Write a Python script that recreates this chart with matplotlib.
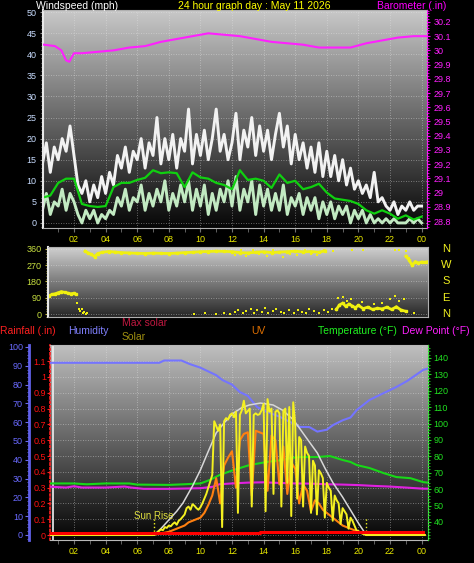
import numpy as np
import matplotlib.pyplot as plt
from matplotlib.colors import LinearSegmentedColormap
from matplotlib.ticker import MultipleLocator, FixedLocator

plt.rcParams['font.family'] = ['Liberation Sans', 'DejaVu Sans']

W, H = 474, 563

# ---------------- data ----------------
# wind gust and wind speed (mph), one reading every 15 minutes from 00:00
gust = [14, 19, 12, 18, 15, 20, 17, 23, 16, 9, 7, 10, 5, 9, 6, 11,
        7, 12, 9, 16, 13, 18, 12, 17, 15, 20, 13, 19, 16, 25, 14, 20,
        15, 21, 13, 20, 17, 27, 14, 21, 16, 22, 15, 20, 27, 17, 21, 15,
        19, 26, 15, 22, 18, 25, 16, 23, 17, 22, 15, 21, 26, 18, 23, 14,
        21, 15, 19, 13, 18, 12, 19, 11, 17, 11, 16, 10, 15, 9, 13, 8,
        10, 7, 9, 6, 12, 5, 6, 4, 3, 5, 2, 4, 3, 5, 3, 4, 4]
speed = [3, 7, 2, 5, 4, 8, 3, 7, 5, 2, 0, 3, 1, 3, 0, 2,
         1, 3, 2, 6, 4, 8, 3, 6, 5, 9, 3, 7, 4, 8, 5, 10,
         3, 7, 4, 9, 5, 10, 3, 8, 4, 9, 2, 7, 3, 8, 5, 10,
         4, 11, 3, 8, 5, 10, 2, 9, 4, 8, 3, 7, 3, 9, 2, 6,
         4, 7, 2, 6, 3, 6, 1, 5, 2, 5, 1, 4, 2, 4, 0, 3,
         1, 3, 0, 2, 0, 1, 0, 1, 0, 1, 0, 0, 0, 1, 0, 1, 0]
# average wind speed (mph), every 30 minutes
avg_wind = [6, 6.5, 9.5, 10.5, 10.5, 4.5, 4, 3.8, 4, 8.5, 9.5, 9.5, 10.2,
            10.7, 12.5, 11.8, 12, 11.8, 8.5, 12, 10.8, 10.5, 9.5, 9, 8,
            12.5, 10.2, 10.5, 10, 8.3, 11.5, 9.5, 10, 8, 8.5, 9.3, 7.2,
            5.8, 5.5, 5.2, 4.5, 3, 2.2, 3, 2.2, 1, 1.8, 0.8, 1.5]

# barometer (inHg)
baro_hours = [0.1, 0.8, 1.2, 1.5, 1.7, 2.0, 2.5, 3.5, 4.5, 5.5, 6.5, 7.5,
              8.5, 9.5, 10.5, 11.5, 12.5, 13.5, 14.5, 15.5, 16.5, 17.5,
              18.5, 19.5, 20.5, 21.5, 22.5, 23.5, 24.3]
baro = [30.04, 30.03, 30.0, 29.93, 29.92, 29.98, 29.98, 29.99, 30.0, 30.02,
        30.03, 30.06, 30.08, 30.1, 30.12, 30.11, 30.1, 30.08, 30.06, 30.05,
        30.04, 30.02, 30.02, 30.02, 30.05, 30.07, 30.09, 30.1, 30.1]

# wind direction (degrees)
dir_night_h = [0.4, 0.6, 0.8, 1.0, 1.2, 1.4, 1.6, 1.8, 2.0, 2.1]
dir_night = [100, 108, 112, 118, 124, 120, 116, 112, 115, 110]
dir_day_h = [2.7, 2.9, 3.1, 3.3, 3.5, 3.8, 4.2, 4.6, 5.0, 5.5, 6.0, 6.5, 7.0,
             7.5, 8.0, 8.5, 9.0, 9.5, 10.0, 10.5, 11.0, 11.5, 12.0, 12.5,
             13.0, 13.5, 14.0, 14.5, 15.0, 15.5, 16.0, 16.5, 17.0, 17.5, 17.9]
dir_day = [348, 338, 330, 318, 335, 342, 346, 343, 340, 338, 336, 335, 337,
           336, 335, 337, 340, 342, 345, 346, 348, 347, 345, 340, 338, 342,
           345, 340, 343, 345, 348, 344, 346, 342, 350]
dir_eve_h = [18.6, 18.8, 19.0, 19.2, 19.4, 19.6, 19.8, 20.0, 20.3, 20.6,
             20.9, 21.2, 21.5, 21.8, 22.1, 22.4, 22.7, 23.0]
dir_eve = [25, 50, 60, 42, 55, 45, 35, 48, 30, 38, 25, 32, 28, 38, 25, 40,
           22, 15]
dir_late_h = [23.0, 23.2, 23.4, 23.6, 23.8, 24.0, 24.2, 24.4]
dir_late = [320, 300, 270, 290, 282, 288, 286, 290]
dir_dots = [(2.2, 62), (2.3, 30), (2.4, 18), (2.5, 25), (2.55, 8), (2.65, 12),
            (2.75, 2), (2.85, 5), (9.6, 2), (10.3, 5), (11.0, 2), (11.5, 4),
            (11.9, 1), (12.2, 10), (12.4, 20), (12.7, 5), (12.9, 15),
            (13.2, 28), (13.4, 8), (13.6, 22), (13.9, 12), (14.1, 32),
            (14.3, 5), (14.6, 18), (14.8, 26), (15.1, 10), (15.3, 3),
            (15.6, 20), (15.9, 8), (16.2, 24), (16.4, 12), (16.7, 4),
            (16.9, 30), (17.2, 15), (17.5, 6), (17.8, 22), (18.1, 10),
            (18.3, 30), (12.2, 325), (12.6, 355), (12.9, 322), (13.3, 356),
            (13.7, 330), (14.2, 320), (14.6, 352), (15.2, 318), (15.7, 330),
            (16.1, 325), (16.6, 356), (17.0, 330), (17.4, 326), (17.8, 352),
            (18.4, 350), (19.6, 356), (20.3, 352), (22.3, 356), (22.6, 352),
            (23.0, 350), (23.2, 310), (18.7, 90), (19.0, 95), (19.3, 70),
            (19.5, 82), (20.2, 65), (21.0, 58), (21.5, 62), (22.0, 85),
            (22.3, 100), (22.6, 72), (22.9, 82), (23.5, 5)]

# humidity (%)
hum_hours = [0.5, 2, 4, 6, 7.4, 7.7, 8.8, 9.3, 10, 11, 11.4, 12, 12.5, 13,
             13.6, 14.2, 15, 15.7, 16.3, 16.9, 17.4, 17.7, 18, 18.4, 19, 19.5,
             19.9, 20.7, 21.6, 22.4, 23.1, 24.1, 24.4]
humidity = [91.6, 91.6, 91.6, 91.6, 91.6, 92.8, 92.8, 91, 89, 85, 82.4, 80,
            76, 74, 68, 65.5, 63, 60, 57.5, 57.4, 55, 55.5, 56, 58.5, 61,
            62.5, 66.5, 71.8, 75.5, 78.7, 82, 87.8, 88.5]

# temperature and dew point (F)
temp_hours = [0.5, 2, 2.8, 4, 5.5, 6, 8, 9, 10, 10.6, 11.2, 12.1, 13.1, 14.2,
              15.2, 15.7, 16.3, 17.4, 18.2, 19.0, 19.5, 19.9, 20.7, 21.6,
              22.4, 23.3, 24.1, 24.4]
temperature = [63.5, 63.5, 63, 63.5, 63.5, 62.8, 62.6, 63, 63.5, 65.6, 68.6,
               71.7, 74.7, 76.6, 77.8, 79, 79.6, 79.6, 80.2, 77.8, 76.6, 74.7,
               72.9, 69.8, 67.4, 66.7, 64.3, 64]
dew_hours = [0.5, 1.5, 2.0, 2.5, 4, 5.2, 5.6, 6.4, 8, 10, 10.8, 11.2, 12, 13,
             14, 15, 16, 17, 18, 19, 20, 21, 22, 23, 24.1, 24.4]
dew_point = [61.5, 61, 61.8, 61, 61, 61.6, 61, 60.2, 60.2, 60.6, 61.5, 63,
             63.5, 64, 64.2, 63.8, 63.5, 63.4, 63, 62.8, 62.5, 62, 61.6, 61,
             60.3, 60.3]

# rainfall (in)
rain_hours = [0.5, 13.8, 13.8, 24.1]
rain = [0.01, 0.01, 0.02, 0.02]

# max solar (W/m2)
maxsol_hours = [7.07, 7.5, 8.0, 8.5, 8.9, 9.5, 10.0, 10.5, 11.0, 11.5, 12.1,
                12.6, 13.1, 13.8, 14.6, 15.2, 15.9, 16.6, 17.4, 17.9, 18.4,
                19.0, 19.5, 20.0, 20.5]
max_solar = [0, 40, 95, 150, 203, 310, 411, 530, 646, 710, 772, 805, 823, 835,
             823, 790, 728, 630, 519, 420, 329, 240, 158, 75, 0]

# solar (W/m2), every 7.5 minutes from 07:00 to 20:30
solar = [0, 5, 15, 25, 35, 30, 50, 45,
         60, 55, 70, 80, 65, 90, 100, 115,
         130, 170, 180, 160, 195, 185, 170, 160,
         175, 200, 230, 260, 300, 340, 380, 720,
         690, 660, 700, 50, 720, 740, 730, 760,
         770, 745, 780, 140, 760, 790, 850, 770,
         785, 800, 180, 760, 770, 760, 765, 790,
         830, 150, 860, 780, 800, 260, 780, 790,
         770, 180, 785, 800, 330, 810, 120, 840,
         700, 230, 620, 600, 180, 560, 520, 500,
         140, 470, 440, 130, 410, 390, 360, 110,
         330, 300, 280, 90, 250, 220, 200, 70,
         170, 150, 130, 40, 110, 90, 60, 30,
         25, 15, 10, 5, 0]

# UV index, every 15 minutes from 07:00 to 20:30
uv = [0, 0.05, 0.1, 0.15, 0.2, 0.3, 0.4, 0.5, 0.6, 0.8, 0.9, 1.0,
      1.1, 1.4, 1.9, 2.5, 3.6, 2.0, 4.4, 4.9, 5.3, 3.0, 6.0, 6.4,
      6.5, 2.5, 6.6, 6.5, 6.4, 2.8, 6.3, 6.0, 3.2, 5.6, 2.6, 4.6,
      4.2, 2.0, 3.2, 2.8, 1.5, 2.2, 2.0, 1.6, 1.4, 1.2, 1.0, 0.8,
      0.6, 0.5, 0.4, 0.3, 0.2, 0.1, 0.0]

sunrise, sunset = 7.07, 20.45

hour_ticks = list(range(2, 25, 2))
hour_labels = ['%02d' % (h % 24) for h in hour_ticks]

# ---------------- drawing ----------------
fig = plt.figure(figsize=(W / 100, H / 100), dpi=100, facecolor='black')


def panel(left, top, right, bottom):
    return fig.add_axes([left / W, 1 - bottom / H, (right - left) / W,
                         (bottom - top) / H])


def shade(ax, top_col, bottom_col):
    cmap = LinearSegmentedColormap.from_list('bg', [bottom_col, top_col])
    ax.imshow(np.linspace(0, 1, 256).reshape(-1, 1), cmap=cmap, origin='lower',
              extent=[0, 1, 0, 1], transform=ax.transAxes, aspect='auto',
              zorder=0)


def hour_of(x):
    # pixel column -> hour of day
    return (x - 42.4) / 15.8


def time_axis(ax, labels=True):
    ax.set_xticks(hour_ticks)
    ax.set_xticklabels(hour_labels)
    ax.xaxis.set_minor_locator(MultipleLocator(1))
    ax.tick_params(axis='x', which='both', colors='#707070',
                   labelcolor='#e8e800', labelsize=6.5, length=3, pad=2,
                   labelbottom=labels, bottom=True)


def fmt(v, p):
    return '%g' % round(v, 2)


grid_kw = dict(color='#e8e8e8', linestyle=(0, (1, 2)), linewidth=0.6, alpha=0.55)

# --- top: wind + barometer ---
ax1 = panel(43, 10, 427, 228)
shade(ax1, '#c8c8c8', '#060606')
t_wind = np.linspace(0, 24, len(gust))
ax1.plot(t_wind, gust, color='#f2f2f2', lw=2.1)
ax1.plot(t_wind, speed, color='#c2eac2', lw=2.1)
ax1.plot(np.linspace(0, 24, len(avg_wind)), avg_wind, color='#10d010', lw=1.6)
ax1.set_xlim(hour_of(43), hour_of(427))
ax1.set_ylim(-1.2, 50.5)
ax1.yaxis.set_major_locator(MultipleLocator(5))
ax1.yaxis.set_minor_locator(MultipleLocator(1))
ax1.tick_params(axis='y', which='both', colors='#909090', labelcolor='#c8dcff',
                labelsize=6.5, length=2.5, pad=2)
ax1.tick_params(axis='y', which='minor', length=1.5)
time_axis(ax1)
ax1.set_axisbelow(True)
ax1.grid(True, which='major', **grid_kw)
for side in ['top', 'bottom', 'right']:
    ax1.spines[side].set_color('#b0b0b0')
ax1.spines['left'].set_color('#e8e8e8')
ax1.spines['left'].set_linewidth(1.5)

ax1b = ax1.twinx()
ax1b.plot(baro_hours, baro, color='#ff20ff', lw=1.5)
ax1b.set_ylim(28.751, 30.284)
ax1b.yaxis.set_major_locator(MultipleLocator(0.1))
ax1b.yaxis.set_minor_locator(MultipleLocator(0.02))
ax1b.yaxis.set_major_formatter(fmt)
ax1b.tick_params(axis='y', which='both', colors='#ff00ff', labelcolor='#ff20ff',
                 labelsize=6.5, length=2.5, pad=2)
ax1b.tick_params(axis='y', which='minor', length=1.2)
for side in ['top', 'bottom', 'left']:
    ax1b.spines[side].set_visible(False)
ax1b.spines['right'].set_color('#ff00ff')
ax1b.spines['right'].set_linestyle(':')

# --- middle: wind direction ---
ax2 = panel(48, 247, 428, 317)
shade(ax2, '#d0d0d0', '#262626')
dot_kw = dict(color='#f0f010', lw=2.0, marker='s', ms=1.6, solid_joinstyle='miter')
ax2.plot(dir_night_h, dir_night, **dot_kw)
ax2.plot(dir_day_h, dir_day, **dot_kw)
ax2.plot(dir_eve_h, dir_eve, **dot_kw)
ax2.plot(dir_late_h, dir_late, **dot_kw)
ax2.plot([d[0] for d in dir_dots], [d[1] for d in dir_dots], 's',
         color='#f0f010', ms=1.8, mew=0)
ax2.set_xlim(hour_of(48), hour_of(428))
ax2.set_ylim(-16.6, 371)
ax2.set_yticks([0, 90, 180, 270, 360])
ax2.yaxis.set_minor_locator(MultipleLocator(15))
ax2.tick_params(axis='y', which='both', colors='#c8c040', labelcolor='#c8e040',
                labelsize=6.5, length=2.5, pad=2)
ax2.tick_params(axis='y', which='minor', length=1.5)
ax2.tick_params(axis='x', which='both', bottom=False, labelbottom=False)
ax2.set_axisbelow(True)
ax2.grid(True, axis='y', **grid_kw)
for side in ax2.spines:
    ax2.spines[side].set_color('#b0b0b0')
ax2.spines['left'].set_color('#e8e8e8')
ax2.spines['left'].set_linewidth(1.5)
for deg, letter in zip([360, 270, 180, 90, 0], 'NWSEN'):
    ax2.text(1.047, deg, letter, transform=ax2.get_yaxis_transform(),
             color='#f0f020', fontsize=8, ha='center', va='center')

# --- bottom: rain, humidity, solar, UV, temperature ---
ax3 = panel(50, 345, 428, 540)
shade(ax3, '#c0c0c0', '#040404')
ax3.set_xlim(hour_of(50), hour_of(428))
ax3.set_ylim(-0.0316, 1.2025)
ax3.yaxis.set_major_locator(FixedLocator(np.arange(0, 1.15, 0.1)))
ax3.yaxis.set_minor_locator(MultipleLocator(0.02))
ax3.yaxis.set_major_formatter(fmt)
ax3.tick_params(axis='y', which='both', colors='#ff2020', labelcolor='#ff1010',
                labelsize=6.5, length=2, pad=1)
ax3.tick_params(axis='y', which='minor', length=1)
time_axis(ax3)
ax3.set_axisbelow(True)
ax3.grid(True, which='major', **grid_kw)
ax3.spines['left'].set_color('#ff2020')
ax3.spines['left'].set_linestyle(':')
ax3.spines['left'].set_linewidth(1.2)
ax3.axvline(hour_of(52.5), color='#f0f0f0', lw=1.2, zorder=1)
for side in ['top', 'bottom', 'right']:
    ax3.spines[side].set_color('#b8b8b8')

ax3h = ax3.twinx()
ax3h.plot(hum_hours, humidity, color='#7474ff', lw=1.5)
ax3h.set_ylim(-2.66, 101.06)
ax3h.yaxis.tick_left()
ax3h.yaxis.set_major_locator(MultipleLocator(10))
ax3h.yaxis.set_minor_locator(MultipleLocator(2))
ax3h.tick_params(axis='y', which='both', colors='#6a6aee', labelcolor='#6a6aff',
                 labelsize=6.5, length=3, pad=1.5)
ax3h.tick_params(axis='y', which='minor', length=1.5)
for side in ['top', 'bottom', 'right']:
    ax3h.spines[side].set_visible(False)
ax3h.spines['left'].set_position(('outward', 15))
ax3h.spines['left'].set_color('#6060e8')
ax3h.spines['left'].set_linewidth(2)

ax3t = ax3.twinx()
ax3t.plot(temp_hours, temperature, color='#18d818', lw=1.5)
ax3t.plot(dew_hours, dew_point, color='#e020e0', lw=1.5)
ax3t.set_ylim(29.02, 147.9)
ax3t.set_yticks(range(40, 141, 10))
ax3t.yaxis.set_minor_locator(MultipleLocator(2))
ax3t.tick_params(axis='y', which='both', colors='#20d020', labelcolor='#20e020',
                 labelsize=6.5, length=2.5, pad=1.5)
ax3t.tick_params(axis='y', which='minor', length=1.2)
for side in ['top', 'bottom', 'left']:
    ax3t.spines[side].set_visible(False)
ax3t.spines['right'].set_color('#20e020')
ax3t.spines['right'].set_linestyle(':')

ax3u = ax3.twinx()
ax3u.set_axis_off()
ax3u.set_ylim(-0.316, 12.025)
ax3u.plot([0.5] + list(np.linspace(7.0, 20.5, len(uv))) + [24.2],
          [0] + uv + [0], color='#ff8010', lw=1.5)

ax3s = ax3.twinx()
ax3s.set_axis_off()
ax3s.set_ylim(-31.6, 1202.5)
ax3s.plot(maxsol_hours, max_solar, color='#d8d8d8', lw=1.1)
ax3s.plot([0.5] + list(np.linspace(7.0, 20.5, len(solar))) + [24.2],
          [0] + solar + [0], color='#f4f020', lw=1.4)
for h in (sunrise, sunset):
    ax3s.plot([h, h], [0, 110], color='#f0f020', lw=1, linestyle=':')
ax3s.annotate('Sun Rise', xy=(sunrise, 0), xytext=(0, 14), textcoords='offset points',
              color='#e0e040', fontsize=7, ha='center', va='center')

ax3r = ax3.twinx()
ax3r.set_axis_off()
ax3r.set_ylim(-0.0316, 1.2025)
ax3r.plot(rain_hours, rain, color='#ff0000', lw=2.2)

# --- header texts ---
def label(x, y, s, color, ha='left'):
    fig.text(x / W, 1 - y / H, s, color=color, fontsize=7.5, ha=ha, va='center')


label(36, 6, 'Windspeed (mph)', '#ffffff')
label(254, 6, '24 hour graph day : May 11 2026', '#ffff00', ha='center')
label(446, 6, 'Barometer (.in)', '#ff00ff', ha='right')
label(0, 331, 'Rainfall (.in)', '#ff2020')
label(68, 331, 'Humidity', '#8080ff')
label(122, 323, 'Max solar', '#c01840')
label(122, 337, 'Solar', '#a09010')
label(251, 331, 'UV', '#e07000')
label(318, 331, 'Temperature (°F)', '#20f020')
label(402, 331, 'Dew Point (°F)', '#ff20ff')

fig.savefig('out.png', dpi=100, facecolor='black')
